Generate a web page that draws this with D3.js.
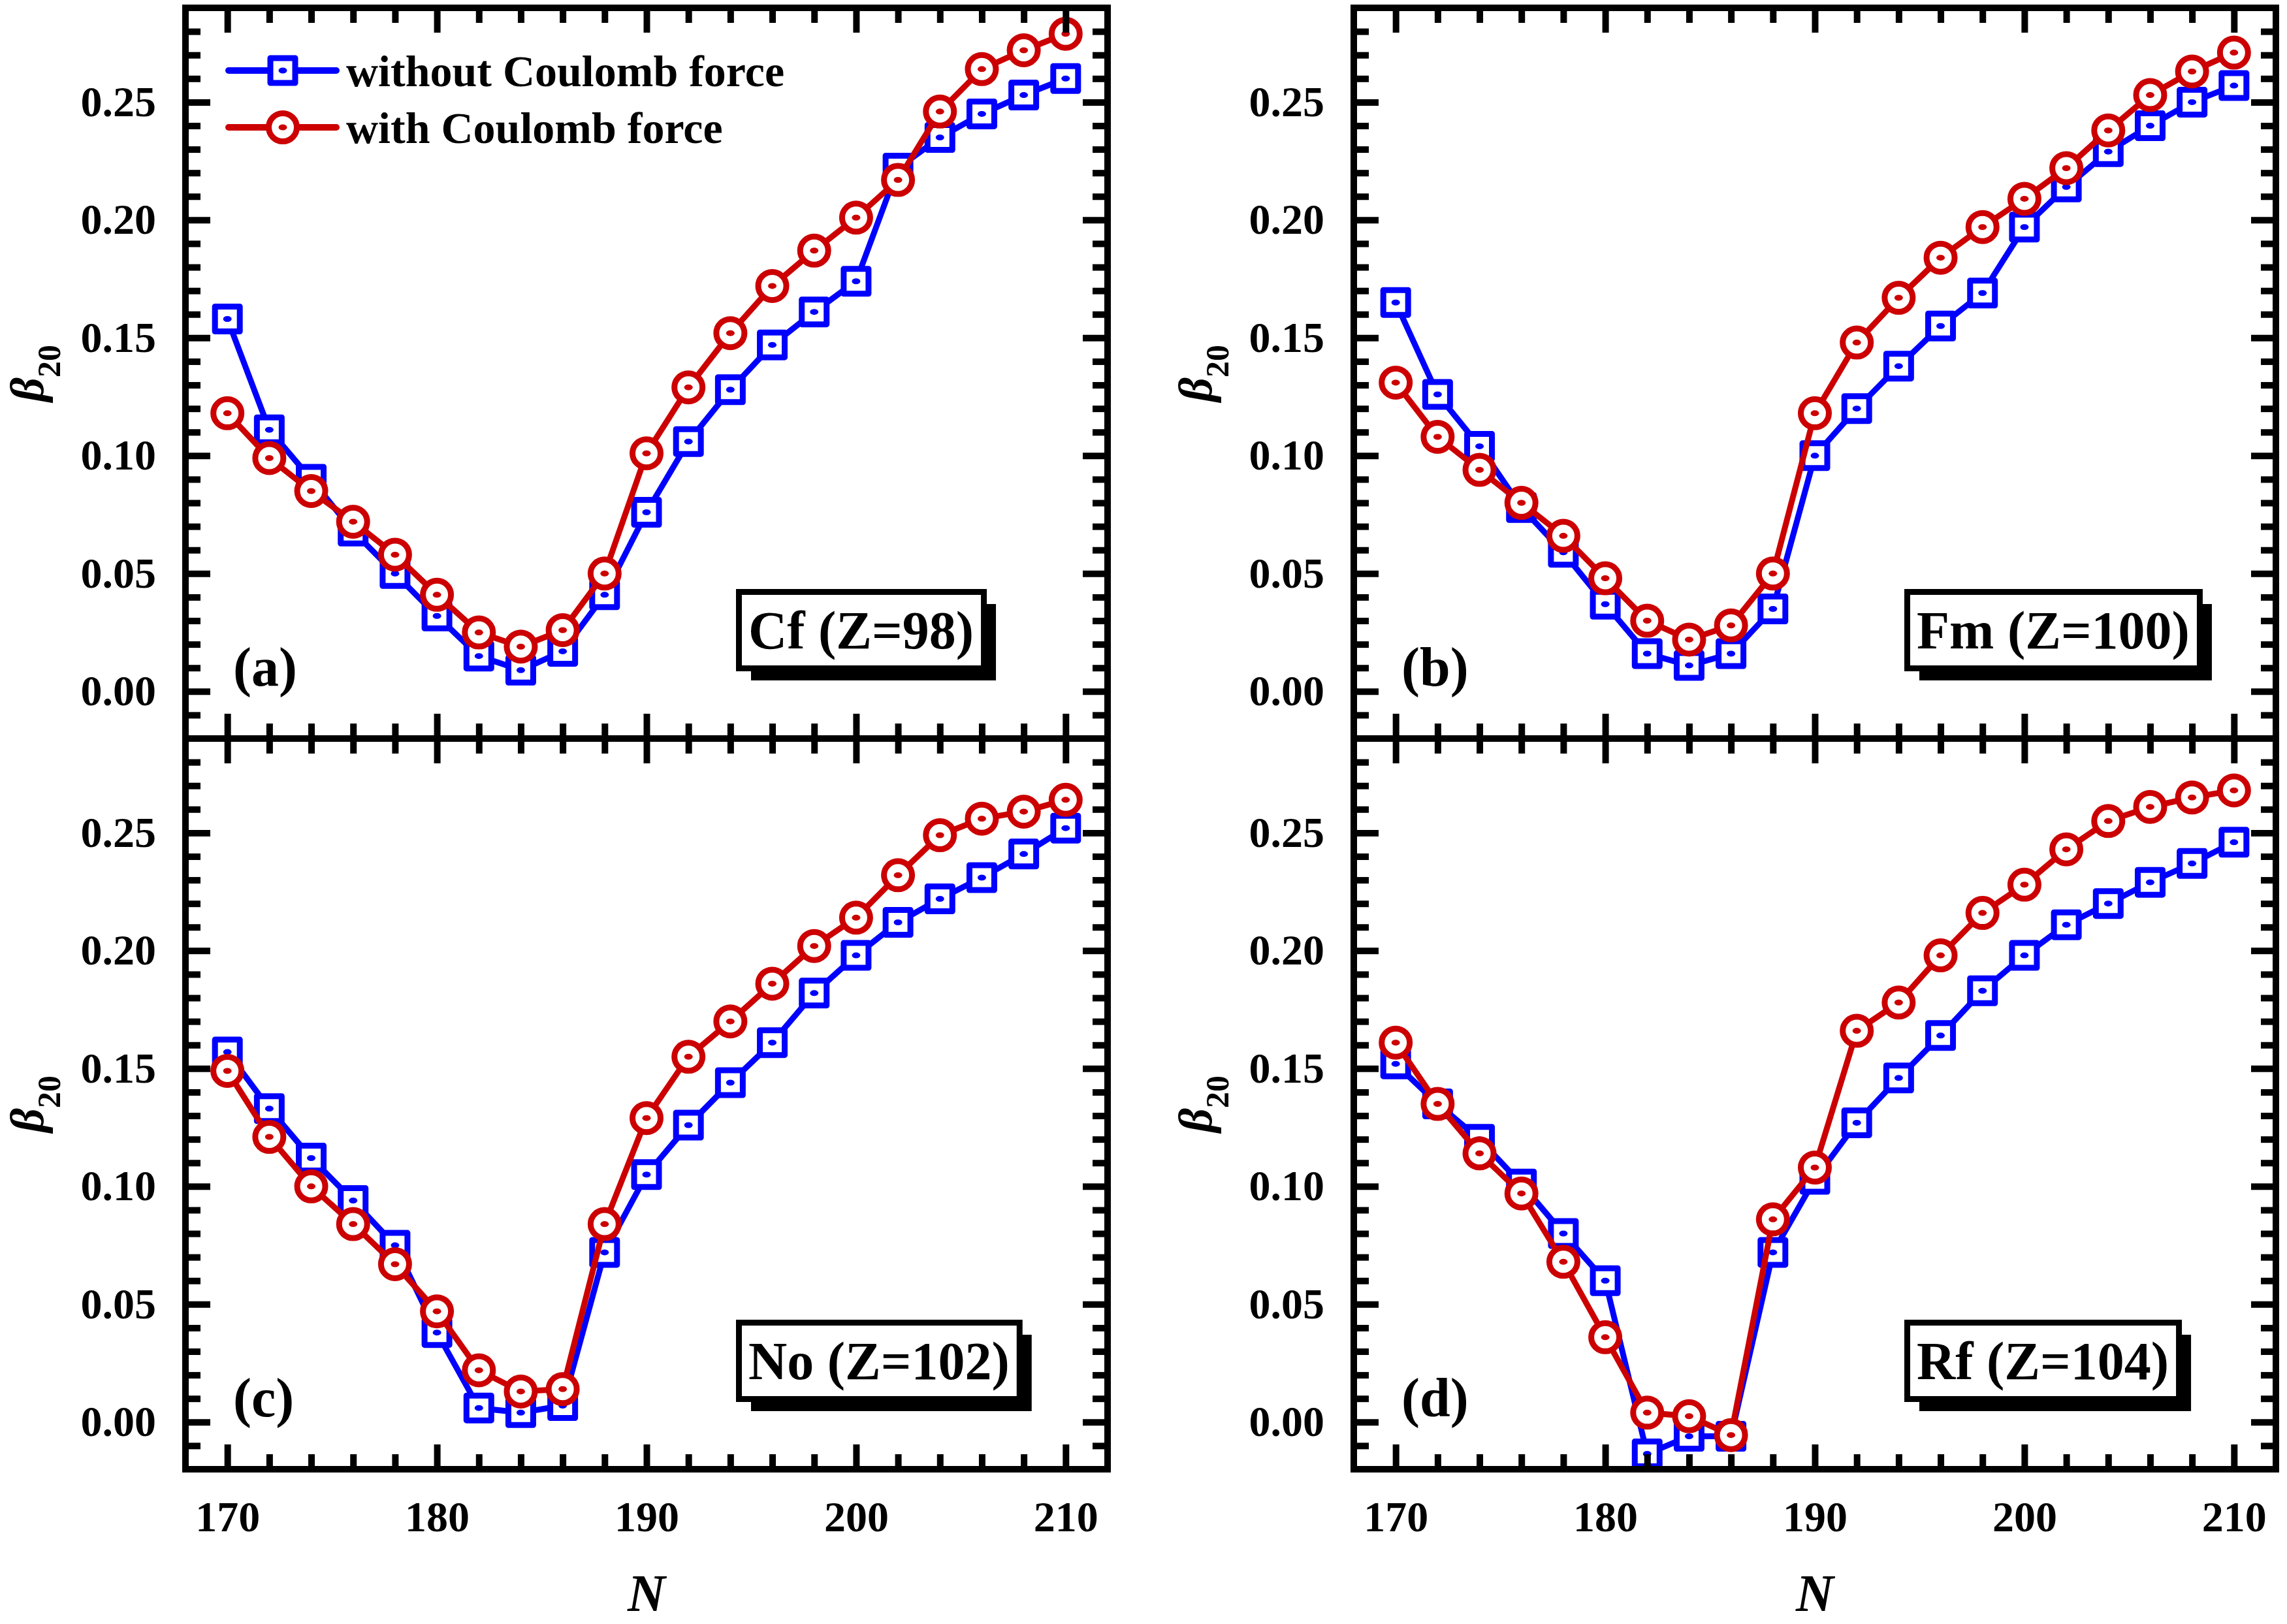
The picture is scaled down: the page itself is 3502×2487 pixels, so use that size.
<!DOCTYPE html>
<html>
<head>
<meta charset="utf-8">
<script src="https://cdn.jsdelivr.net/npm/d3@7"></script>
<style>
  body { margin: 0; background: #fff; }
  text { font-family: "Liberation Serif", "Times New Roman", serif; font-weight: bold; fill: #000; }
</style>
</head>
<body>
<div id="chart"></div>
<script>
const neutrons = [170, 172, 174, 176, 178, 180, 182, 184, 186, 188, 190, 192, 194, 196, 198, 200, 202, 204, 206, 208, 210];

const cfWithout = [0.158, 0.111, 0.090, 0.068, 0.050, 0.032, 0.015, 0.009, 0.017, 0.041, 0.076, 0.106, 0.128, 0.147, 0.161, 0.174, 0.222, 0.235, 0.245, 0.253, 0.260];
const cfWith    = [0.118, 0.099, 0.085, 0.072, 0.058, 0.041, 0.025, 0.019, 0.026, 0.050, 0.101, 0.129, 0.152, 0.172, 0.187, 0.201, 0.217, 0.246, 0.264, 0.272, 0.279];
const fmWithout = [0.165, 0.126, 0.104, 0.078, 0.059, 0.037, 0.016, 0.011, 0.016, 0.035, 0.100, 0.120, 0.138, 0.155, 0.169, 0.197, 0.214, 0.229, 0.240, 0.250, 0.257];
const fmWith    = [0.131, 0.108, 0.094, 0.080, 0.066, 0.048, 0.030, 0.022, 0.028, 0.050, 0.118, 0.148, 0.167, 0.184, 0.197, 0.209, 0.222, 0.238, 0.253, 0.263, 0.271];
const noWithout = [0.157, 0.133, 0.112, 0.094, 0.075, 0.038, 0.006, 0.004, 0.007, 0.072, 0.105, 0.126, 0.144, 0.161, 0.182, 0.198, 0.212, 0.222, 0.231, 0.241, 0.252];
const noWith    = [0.149, 0.121, 0.100, 0.084, 0.067, 0.047, 0.022, 0.013, 0.014, 0.084, 0.129, 0.155, 0.170, 0.186, 0.202, 0.214, 0.232, 0.249, 0.256, 0.259, 0.264];
const rfWithout = [0.152, 0.135, 0.120, 0.101, 0.080, 0.060, -0.0135, -0.006, -0.006, 0.072, 0.103, 0.127, 0.146, 0.164, 0.183, 0.198, 0.211, 0.220, 0.229, 0.237, 0.246];
const rfWith    = [0.161, 0.135, 0.114, 0.097, 0.068, 0.036, 0.004, 0.0025, -0.0055, 0.086, 0.108, 0.166, 0.178, 0.198, 0.216, 0.228, 0.243, 0.255, 0.261, 0.265, 0.268];

const panelLabels = ['(a)', '(b)', '(c)', '(d)'];
const elementLabels = ['Cf (Z=98)', 'Fm (Z=100)', 'No (Z=102)', 'Rf (Z=104)'];
const seriesNames = ['without Coulomb force', 'with Coulomb force'];
const yTicks = [0, 0.05, 0.10, 0.15, 0.20, 0.25];
const xTicks = [170, 180, 190, 200, 210];

const width = 3502;
const height = 2487;
const panelW = 1412;
const panelH = 1119;
const cols = [284, 2073];
const rows = [12, 1131];
const blue = '#0000ff';
const red = '#cc0000';

const yMinor = d3.range(-1, 29).filter(i => i % 5 !== 0).map(i => i / 100);
const xMinor = d3.range(172, 210, 2).filter(n => n % 10 !== 0);

const panels = [
  { label: panelLabels[0], element: elementLabels[0], without: cfWithout, withC: cfWith, col: 0, row: 0 },
  { label: panelLabels[1], element: elementLabels[1], without: fmWithout, withC: fmWith, col: 1, row: 0 },
  { label: panelLabels[2], element: elementLabels[2], without: noWithout, withC: noWith, col: 0, row: 1 },
  { label: panelLabels[3], element: elementLabels[3], without: rfWithout, withC: rfWith, col: 1, row: 1 }
];

const svg = d3.select('#chart')
  .append('svg')
  .attr('width', width)
  .attr('height', height);

svg.append('rect').attr('width', width).attr('height', height).attr('fill', '#fff');

function styleAxis(g, showText) {
  g.select('.domain').remove();
  g.selectAll('.tick line').attr('stroke', '#000').attr('stroke-width', 10);
  g.selectAll('.tick text').style('font-size', '66px');
  if (!showText) g.selectAll('.tick text').remove();
}

function squareMarker(g, color) {
  g.append('rect')
    .attr('x', -19).attr('y', -19)
    .attr('width', 38).attr('height', 38)
    .attr('fill', '#fff')
    .attr('stroke', color)
    .attr('stroke-width', 9)
    .attr('stroke-linejoin', 'round');
  g.append('ellipse').attr('rx', 6.5).attr('ry', 4.5).attr('fill', color);
}

function circleMarker(g, color) {
  g.append('circle')
    .attr('r', 21.5)
    .attr('fill', '#fff')
    .attr('stroke', color)
    .attr('stroke-width', 9);
  g.append('ellipse').attr('rx', 6.5).attr('ry', 4.5).attr('fill', color);
}

panels.forEach((p, i) => {
  const left = cols[p.col];
  const top = rows[p.row];
  const g = svg.append('g').attr('transform', `translate(${left}, ${top})`);

  const x = d3.scaleLinear().domain([168, 212]).range([0, panelW]);
  const y = d3.scaleLinear().domain([-0.02, 0.29]).range([panelH, 0]);

  // series: blue first, red drawn over it
  const series = [
    { values: p.without, color: blue, marker: squareMarker },
    { values: p.withC, color: red, marker: circleMarker }
  ];
  series.forEach(s => {
    const pts = neutrons.map((n, k) => [n, s.values[k]]);
    g.append('path')
      .datum(pts)
      .attr('fill', 'none')
      .attr('stroke', s.color)
      .attr('stroke-width', 9)
      .attr('stroke-linejoin', 'round')
      .attr('d', d3.line().x(d => x(d[0])).y(d => y(d[1])));
    g.selectAll(null)
      .data(pts)
      .enter()
      .append('g')
      .attr('transform', d => `translate(${x(d[0])}, ${y(d[1])})`)
      .each(function () { s.marker(d3.select(this), s.color); });
  });

  // axes with inward ticks on all four sides
  const axes = [
    { axis: d3.axisLeft(y).tickValues(yTicks).tickSizeInner(-38).tickSizeOuter(0).tickPadding(45).tickFormat(d3.format('.2f')), tr: 'translate(0,0)', text: true },
    { axis: d3.axisLeft(y).tickValues(yMinor).tickSizeInner(-23).tickSizeOuter(0).tickFormat(''), tr: 'translate(0,0)', text: false },
    { axis: d3.axisRight(y).tickValues(yTicks).tickSizeInner(-38).tickSizeOuter(0).tickFormat(''), tr: `translate(${panelW},0)`, text: false },
    { axis: d3.axisRight(y).tickValues(yMinor).tickSizeInner(-23).tickSizeOuter(0).tickFormat(''), tr: `translate(${panelW},0)`, text: false },
    { axis: d3.axisTop(x).tickValues(xTicks).tickSizeInner(-38).tickSizeOuter(0).tickFormat(''), tr: 'translate(0,0)', text: false },
    { axis: d3.axisTop(x).tickValues(xMinor).tickSizeInner(-23).tickSizeOuter(0).tickFormat(''), tr: 'translate(0,0)', text: false },
    { axis: d3.axisBottom(x).tickValues(xTicks).tickSizeInner(-38).tickSizeOuter(0).tickPadding(48).tickFormat(d3.format('d')), tr: `translate(0,${panelH})`, text: p.row === 1 },
    { axis: d3.axisBottom(x).tickValues(xMinor).tickSizeInner(-23).tickSizeOuter(0).tickFormat(''), tr: `translate(0,${panelH})`, text: false }
  ];
  axes.forEach(a => {
    const ag = g.append('g').attr('transform', a.tr).call(a.axis);
    styleAxis(ag, a.text);
  });

  // frame
  g.append('rect')
    .attr('width', panelW)
    .attr('height', panelH)
    .attr('fill', 'none')
    .attr('stroke', '#000')
    .attr('stroke-width', 10);

  // y title
  const yt = g.append('text')
    .attr('transform', `translate(-218, ${panelH / 2}) rotate(-90)`)
    .attr('text-anchor', 'middle');
  yt.append('tspan').text('β').style('font-size', '72px').style('font-style', 'italic');
  yt.append('tspan').text('20').attr('dy', 26).style('font-size', '50px');

  // x title
  if (p.row === 1) {
    g.append('text')
      .attr('x', panelW / 2)
      .attr('y', 2467 - top)
      .attr('text-anchor', 'middle')
      .style('font-size', '80px')
      .style('font-style', 'italic')
      .text('N');
  }

  // panel label
  g.append('text')
    .attr('x', 73)
    .attr('y', 1038)
    .style('font-size', '84px')
    .text(p.label);

  // element box with shadow
  const bx = 843, by = 890, bh = 126;
  const boxG = g.append('g');
  const shadow = boxG.append('rect').attr('fill', '#000');
  const box = boxG.append('rect').attr('fill', '#fff').attr('stroke', '#000').attr('stroke-width', 9);
  const label = boxG.append('text')
    .attr('x', bx + 19)
    .attr('y', by + 91)
    .style('font-size', '82px')
    .text(p.element);
  const bw = label.node().getComputedTextLength() + 39;
  shadow.attr('x', bx + 23).attr('y', by + 23).attr('width', bw - 9).attr('height', bh - 9);
  box.attr('x', bx + 4.5).attr('y', by + 4.5).attr('width', bw - 9).attr('height', bh - 9);

  // legend
  if (i === 0) {
    const legendRows = [
      { name: seriesNames[0], color: blue, marker: squareMarker, y: 96 },
      { name: seriesNames[1], color: red, marker: circleMarker, y: 183 }
    ];
    legendRows.forEach(r => {
      const lg = g.append('g').attr('transform', `translate(0, ${r.y})`);
      lg.append('line')
        .attr('x1', 66).attr('x2', 231)
        .attr('stroke', r.color)
        .attr('stroke-width', 10)
        .attr('stroke-linecap', 'round');
      r.marker(lg.append('g').attr('transform', 'translate(149, 0)'), r.color);
      lg.append('text')
        .attr('x', 246)
        .attr('y', 24)
        .style('font-size', '68px')
        .text(r.name);
    });
  }
});
</script>
</body>
</html>
